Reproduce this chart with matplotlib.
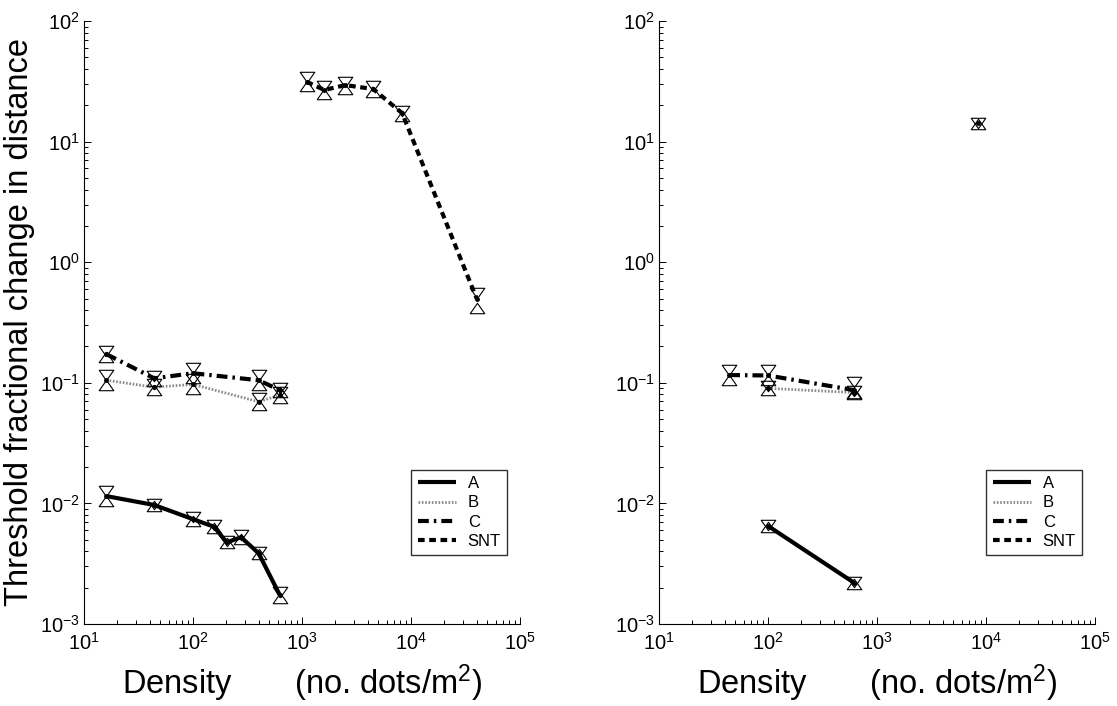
import numpy as np
import matplotlib
matplotlib.use("Agg")
import matplotlib.pyplot as plt
from matplotlib.path import Path

plt.rcParams['font.family'] = ['Liberation Sans', 'DejaVu Sans']
plt.rcParams['mathtext.fontset'] = 'custom'
plt.rcParams['mathtext.rm'] = 'Liberation Sans'
plt.rcParams['mathtext.it'] = 'Liberation Sans'

# ---------------- data (left panel) ----------------
L_A_d = [16, 44, 100, 156, 204, 276, 400, 625]
L_A_v = [0.0115, 0.0097, 0.0074, 0.0064, 0.00475, 0.00524, 0.00386, 0.00174]
L_A_hi = [0.01265, 0.00998, 0.00769, 0.00659, 0.00484, 0.00544, 0.00393, 0.00184]
L_A_lo = [0.01045, 0.00943, 0.00712, 0.00622, 0.00466, 0.00504, 0.00379, 0.00164]

L_B_d = [16, 44, 100, 400, 625]
L_B_v = [0.105, 0.092, 0.097, 0.0697, 0.079]
L_B_hi = [0.1155, 0.0974, 0.1067, 0.0745, 0.0837]
L_B_lo = [0.0955, 0.0869, 0.0882, 0.0652, 0.0746]

L_C_d = [16, 44, 100, 400, 625]
L_C_v = [0.173, 0.109, 0.120, 0.105, 0.087]
L_C_hi = [0.183, 0.1143, 0.132, 0.1155, 0.0904]
L_C_lo = [0.163, 0.1039, 0.109, 0.0955, 0.0837]

L_S_d = [1100, 1600, 2500, 4500, 8300, 40000]
L_S_v = [31.4, 26.8, 29.4, 27.3, 17.2, 0.50]
L_S_hi = [34.2, 28.9, 31.4, 28.9, 18.0, 0.56]
L_S_lo = [28.8, 24.8, 27.5, 25.8, 16.4, 0.42]

# ---------------- data (right panel) ----------------
R_A_d = [100, 615]
R_A_v = [0.0065, 0.0022]
R_A_hi = [0.00662, 0.00224]
R_A_lo = [0.00638, 0.00216]

R_B_d = [100, 615]
R_B_v = [0.090, 0.083]
R_B_hi = [0.0935, 0.0855]
R_B_lo = [0.0866, 0.0807]

R_C_d = [44, 100, 615]
R_C_v = [0.116, 0.115, 0.087]
R_C_hi = [0.1276, 0.1265, 0.101]
R_C_lo = [0.1055, 0.1045, 0.083]

R_S_d = [8400]
R_S_v = [14.2]
R_S_hi = [14.35]
R_S_lo = [14.05]

labels = ['A', 'B', 'C', 'SNT']

# ---------------- styles ----------------
styles = {
    'A': dict(color='black', lw=3.0, ls='-'),
    'B': dict(color='#8a8a8a', lw=2.0, ls=(0, (0.6, 0.6))),
    'C': dict(color='black', lw=3.0, ls=(0, (2.6, 1.2, 0.6, 1.2))),
    'SNT': dict(color='black', lw=3.0, ls=(0, (1.6, 1.1))),
}

down_tri = Path([(-1, 0.714), (1, 0.714), (0, -0.714), (-1, 0.714)],
                [Path.MOVETO, Path.LINETO, Path.LINETO, Path.CLOSEPOLY])
up_tri = Path([(-1, -0.714), (1, -0.714), (0, 0.714), (-1, -0.714)],
              [Path.MOVETO, Path.LINETO, Path.LINETO, Path.CLOSEPOLY])
MS = 10.5

fig = plt.figure(figsize=(11.17, 7.06), dpi=100)
axL = fig.add_axes([84 / 1117, 82 / 706, 436 / 1117, 603 / 706])
axR = fig.add_axes([659 / 1117, 82 / 706, 436 / 1117, 603 / 706])


def draw(ax, series):
    for lab, d, v, hi, lo in series:
        st = styles[lab]
        ax.plot(d, v, color=st['color'], lw=st['lw'], ls=st['ls'],
                label=lab, zorder=2, solid_capstyle='butt', dash_capstyle='butt')
        ax.plot(d, hi, ls='none', marker=down_tri, ms=MS, mfc='none',
                mec='black', mew=0.8, zorder=3)
        ax.plot(d, lo, ls='none', marker=up_tri, ms=MS, mfc='none',
                mec='black', mew=0.8, zorder=3)
        ax.plot(d, v, ls='none', marker='o', ms=2.5, color='black', zorder=4)


draw(axL, [('A', L_A_d, L_A_v, L_A_hi, L_A_lo),
           ('B', L_B_d, L_B_v, L_B_hi, L_B_lo),
           ('C', L_C_d, L_C_v, L_C_hi, L_C_lo),
           ('SNT', L_S_d, L_S_v, L_S_hi, L_S_lo)])
draw(axR, [('A', R_A_d, R_A_v, R_A_hi, R_A_lo),
           ('B', R_B_d, R_B_v, R_B_hi, R_B_lo),
           ('C', R_C_d, R_C_v, R_C_hi, R_C_lo),
           ('SNT', R_S_d, R_S_v, R_S_hi, R_S_lo)])

for ax in (axL, axR):
    ax.set_xscale('log')
    ax.set_yscale('log')
    ax.set_xlim(10, 1e5)
    ax.set_ylim(1e-3, 1e2)
    ax.spines['top'].set_visible(False)
    ax.spines['right'].set_visible(False)
    for s in ('left', 'bottom'):
        ax.spines[s].set_linewidth(0.8)
    ax.tick_params(which='both', direction='in', labelsize=14.5, width=0.7,
                   top=False, right=False)
    ax.tick_params(which='major', length=5)
    ax.tick_params(which='minor', length=3)
    ax.tick_params(axis='x', pad=6)
    ax.tick_params(axis='y', pad=3)
    ax.set_xlabel('Density       (no. dots/m$^2$)', fontsize=23.5)
    ax.xaxis.set_label_coords(0.5, -0.064)
    leg = ax.legend(loc='upper left', bbox_to_anchor=(0.75, 0.256),
                    fontsize=12, frameon=True, fancybox=False, handlelength=2.3,
                    handletextpad=0.7, labelspacing=0.25, borderpad=0.4,
                    borderaxespad=0)
    leg.get_frame().set_edgecolor('black')
    leg.get_frame().set_linewidth(1.0)

axL.set_ylabel('Threshold fractional change in distance', fontsize=23.5)
axL.yaxis.set_label_coords(-0.112, 0.5)

fig.savefig('out.png', dpi=100)
